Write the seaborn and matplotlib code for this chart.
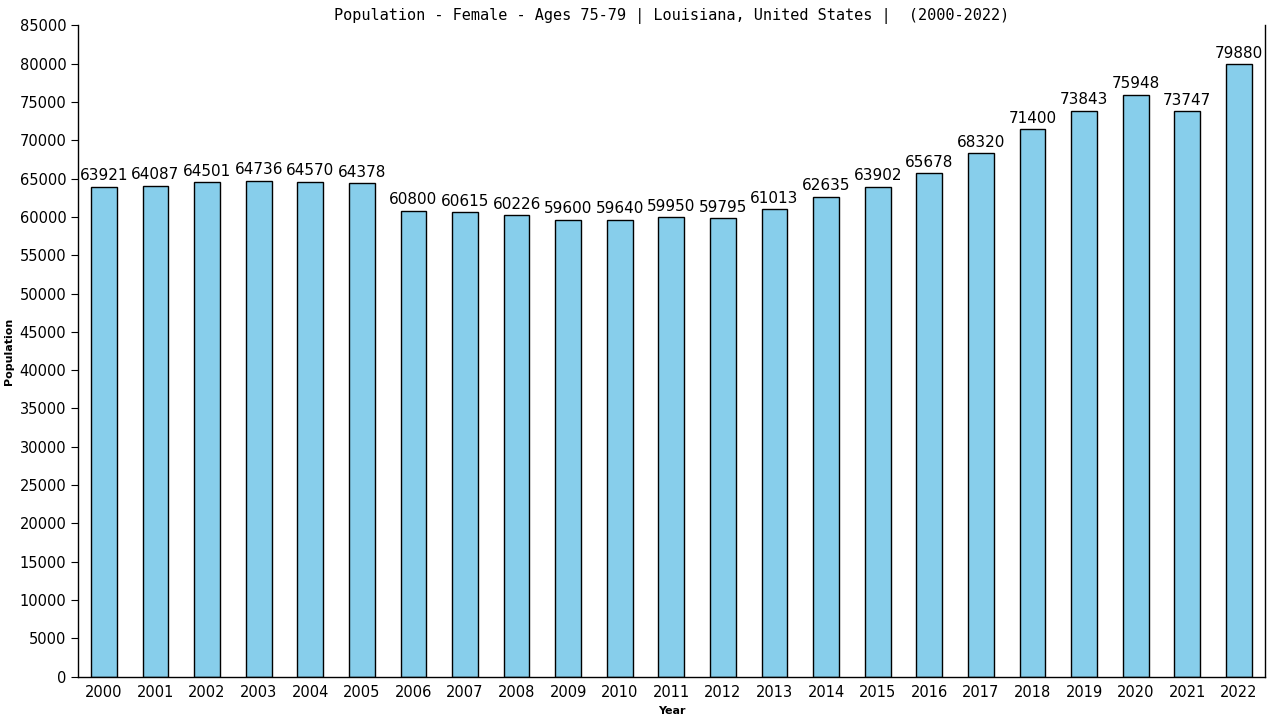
import seaborn as sns
import pandas as pd
import matplotlib.pyplot as plt

# ========= data =========
years = [str(y) for y in range(2000, 2023)]
population = [63921, 64087, 64501, 64736, 64570, 64378, 60800, 60615, 60226, 59600,
              59640, 59950, 59795, 61013, 62635, 63902, 65678, 68320, 71400, 73843,
              75948, 73747, 79880]
title = "Population - Female - Ages 75-79 | Louisiana, United States |  (2000-2022)"
# ========================

df = pd.DataFrame({"Year": years, "Population": population})

sns.set_style("white")
plt.rcParams["font.family"] = ["DejaVu Sans", "Noto Sans"]
plt.rcParams["text.color"] = "black"
plt.rcParams["axes.labelcolor"] = "black"
plt.rcParams["xtick.color"] = "black"
plt.rcParams["ytick.color"] = "black"

fig = plt.figure(figsize=(12.8, 7.2), dpi=100)
ax = fig.add_axes([0.061, 0.060, 0.927, 0.905])

sns.barplot(data=df, x="Year", y="Population", color="#87CEEB", saturation=1,
            width=0.5, edgecolor="black", linewidth=1, ax=ax)

for i, v in enumerate(population):
    ax.text(i, v + 450, str(v), ha="center", va="bottom", fontsize=11, color="black")

ax.set_xlim(-0.5, len(years) - 0.5)
ax.set_ylim(0, 85000)
ax.set_yticks(range(0, 85001, 5000))
ax.tick_params(axis="both", labelsize=10.5, length=5, color="black", direction="out")
ax.tick_params(axis="x", length=0, pad=6)
ax.tick_params(left=True)

ax.set_xlabel("Year", fontsize=8, fontweight="bold", labelpad=4)
ax.set_ylabel("Population", fontsize=8, fontweight="bold", labelpad=4)
ax.set_title(title, fontsize=11, family="DejaVu Sans Mono", pad=4, color="black")

sns.despine(ax=ax, top=True, right=False)
for s in ["left", "bottom", "right"]:
    ax.spines[s].set_color("black")
    ax.spines[s].set_linewidth(1)

fig.savefig("out.png", dpi=100)
